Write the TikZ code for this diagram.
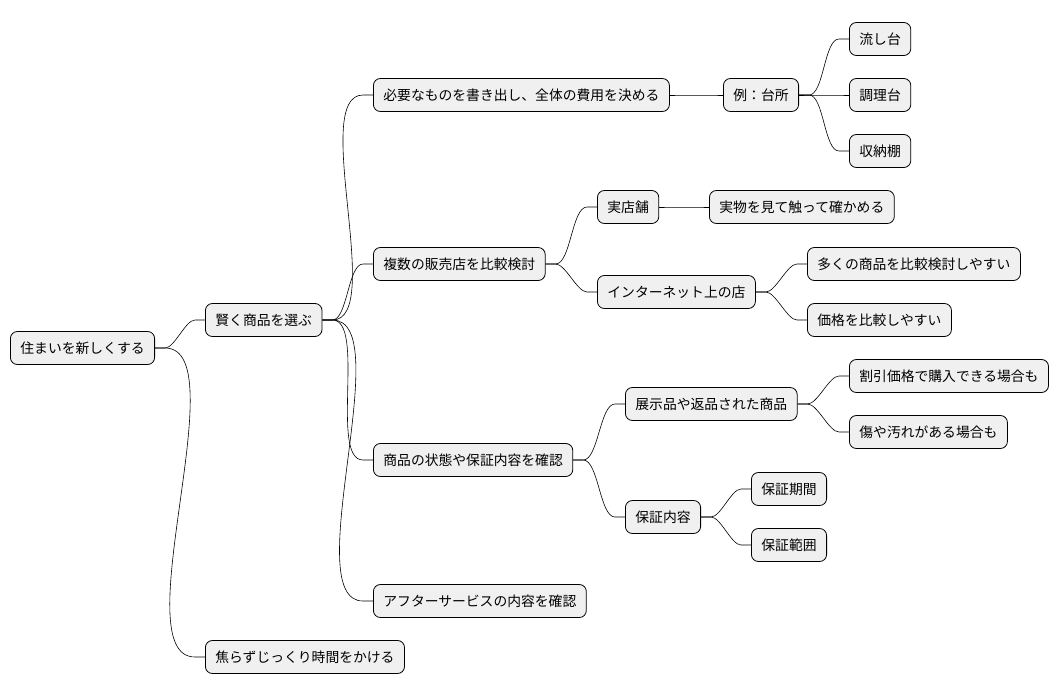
\documentclass[tikz,border=0pt]{standalone}
\usepackage{fontspec}
\newfontfamily\jp{Noto Sans CJK JP}
\begin{document}
\begin{tikzpicture}[x=1pt,y=-1pt,
  nd/.style={draw=black,fill=black!6,rounded corners=7pt,minimum height=33pt,inner xsep=10pt,anchor=west,font=\jp\fontsize{13.8}{16}\selectfont,line width=0.8pt},
  ln/.style={line width=0.6pt}]
\useasboundingbox (0,0) rectangle (1062,696);
\node[nd] (r) at (10,348) {住まいを新しくする};
\node[nd] (a) at (205,320) {賢く商品を選ぶ};
\node[nd] (b) at (205,657) {焦らずじっくり時間をかける};
\node[nd] (a1) at (373,95) {必要なものを書き出し、全体の費用を決める};
\node[nd] (a2) at (373,264) {複数の販売店を比較検討};
\node[nd] (a3) at (373,460) {商品の状態や保証内容を確認};
\node[nd] (a4) at (373,601) {アフターサービスの内容を確認};
\node[nd] (k) at (723,95) {例：台所};
\node[nd] (k1) at (849,39) {流し台};
\node[nd] (k2) at (849,95) {調理台};
\node[nd] (k3) at (849,151) {収納棚};
\node[nd] (s1) at (597,207) {実店舗};
\node[nd] (s11) at (709,207) {実物を見て触って確かめる};
\node[nd] (s2) at (597,292) {インターネット上の店};
\node[nd] (s21) at (807,264) {多くの商品を比較検討しやすい};
\node[nd] (s22) at (807,320) {価格を比較しやすい};
\node[nd] (t1) at (625,404) {展示品や返品された商品};
\node[nd] (t11) at (849,376) {割引価格で購入できる場合も};
\node[nd] (t12) at (849,432) {傷や汚れがある場合も};
\node[nd] (t2) at (625,517) {保証内容};
\node[nd] (t21) at (751,489) {保証期間};
\node[nd] (t22) at (751,545) {保証範囲};
\foreach \p/\c in {r/a,r/b,a/a1,a/a2,a/a3,a/a4,a1/k,k/k1,k/k2,k/k3,a2/s1,a2/s2,s1/s11,s2/s21,s2/s22,a3/t1,a3/t2,t1/t11,t1/t12,t2/t21,t2/t22}
  \draw[ln] (\p.east) -- ++(10,0) to[out=0,in=180,looseness=0.6] ([xshift=-10pt]\c.west) -- (\c.west);
\end{tikzpicture}
\end{document}
